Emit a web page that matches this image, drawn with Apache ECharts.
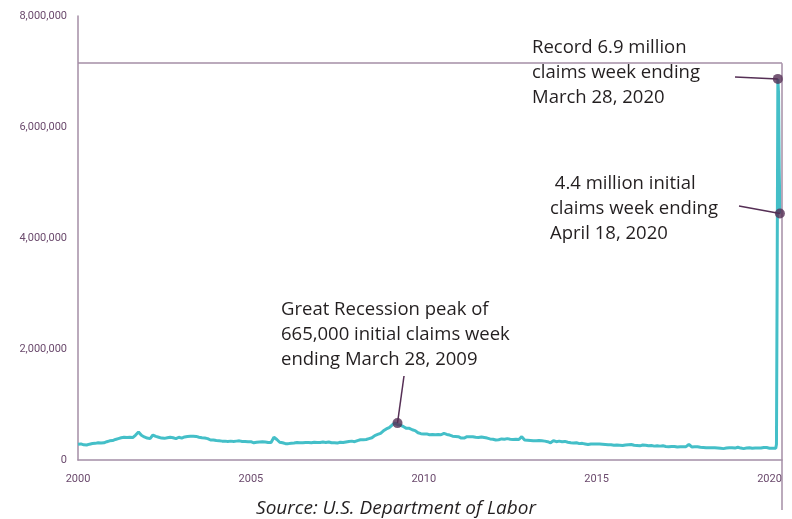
<!DOCTYPE html>
<html>
<head>
<meta charset="utf-8">
<script src="https://cdn.jsdelivr.net/npm/echarts@6/dist/echarts.min.js"></script>
<style>
html,body{margin:0;padding:0;background:#fff;}
#chart{width:792px;height:519px;}
</style>
</head>
<body>
<div id="chart"></div>
<script>
// weekly initial jobless claims, monthly readings (thousands), Jan 2000 - Feb 2020
var monthlyClaims = [
	285,290,273,270,285,296,300,310,305,310,330,345,
	350,370,385,400,410,405,410,405,450,505,445,415,
	395,385,450,425,410,395,390,400,410,400,385,410,
	395,415,425,430,430,425,410,400,395,385,360,360,
	350,345,340,340,335,340,335,340,345,335,335,330,
	330,310,320,325,330,325,315,315,410,370,320,310,
	295,295,300,305,315,310,310,315,315,310,320,315,
	315,325,315,325,310,310,305,320,315,325,335,340,
	330,350,365,365,370,385,400,440,460,480,525,560,
	585,630,665,635,625,600,570,570,545,530,490,475,
	470,470,455,460,455,460,455,480,460,450,430,425,
	420,395,395,420,420,420,410,405,415,405,395,380,
	375,360,365,380,375,385,375,370,375,370,420,360,
	355,350,345,345,350,345,340,330,310,350,330,340,
	330,335,320,310,305,310,295,300,290,280,290,290,
	290,290,285,280,275,275,265,270,265,260,270,275,
	280,265,260,255,270,265,255,260,250,255,250,255,
	245,240,245,245,235,240,240,240,280,235,240,240,
	230,225,220,220,220,220,215,210,205,215,220,220,
	215,230,215,205,215,220,210,215,215,215,225,225,
	212,212
];
// weekly readings, March - April 2020
var weeks2020 = [2020.18,2020.20,2020.22,2020.24,2020.26,2020.28,2020.30];
var claims2020 = [211,282,3307,6867,6615,5237,4442];

var yTicks = [0,2000000,4000000,6000000,8000000];
var xTicks = [2000,2005,2010,2015,2020];

// highlighted weeks
var noteX = [2009.24, 2020.24, 2020.30];
var noteY = [665000, 6867000, 4442000];
var noteText = [
	'Great Recession peak of\n665,000 initial claims week\nending March 28, 2009',
	'Record 6.9 million\nclaims week ending\nMarch 28, 2020',
	' 4.4 million initial\nclaims week ending\nApril 18, 2020'
];
var frameLevel = 7150000;

var lineData = [];
for(var i=0;i<monthlyClaims.length;i++){
	lineData.push([2000+i/12, monthlyClaims[i]*1000]);
}
for(var j=0;j<weeks2020.length;j++){
	lineData.push([weeks2020[j], claims2020[j]*1000]);
}
var dotData = [];
for(var k=0;k<noteX.length;k++){
	dotData.push([noteX[k], noteY[k]]);
}

var axisColor = '#a48ea6';
var labelColor = '#6b4a6d';
var dotColor = '#552f55';
var xMax = 2020.36;

var chart = echarts.init(document.getElementById('chart'));
var option = {
	animation:false,
	grid:{left:78, right:10, top:16, bottom:59},
	xAxis:{
		type:'value',
		min:2000,
		max:xMax,
		interval:5,
		axisLine:{lineStyle:{color:axisColor, width:1.5}},
		axisTick:{show:false},
		splitLine:{show:false},
		axisLabel:{
			color:labelColor, fontSize:11, fontFamily:'Roboto', margin:14,
			showMaxLabel:false,
			formatter:function(v){ return xTicks.indexOf(v)>=0 ? String(v) : ''; }
		}
	},
	yAxis:{
		type:'value',
		min:0,
		max:8000000,
		interval:2000000,
		axisLine:{show:true, lineStyle:{color:axisColor, width:1.5}},
		axisTick:{show:false},
		splitLine:{show:false},
		axisLabel:{
			color:labelColor, fontSize:11, fontFamily:'Roboto', margin:11,
			formatter:function(v){ return yTicks.indexOf(v)>=0 ? v.toLocaleString('en-US') : ''; }
		}
	},
	series:[
		{
			type:'line',
			data:lineData,
			showSymbol:false,
			lineStyle:{color:'#44bfc8', width:3},
			z:3,
			markLine:{
				silent:true,
				symbol:'none',
				label:{show:false},
				lineStyle:{color:axisColor, width:1.5, type:'solid'},
				data:[
					[{coord:[2000,frameLevel]},{coord:[xMax,frameLevel]}],
					[{coord:[xMax,frameLevel]},{coord:[xMax,0]}]
				]
			}
		},
		{
			type:'scatter',
			data:dotData,
			symbolSize:10,
			itemStyle:{color:dotColor},
			z:5
		}
	]
};
chart.setOption(option);

// annotation text and leader lines, anchored on the highlighted points
var textPos = [[281,297],[532,35],[550,171]];
var leadFrom = [[404,376],[735,77],[739,206]];
var g = [];
for(var n=0;n<noteX.length;n++){
	var p = chart.convertToPixel({gridIndex:0}, [noteX[n], noteY[n]]);
	g.push({
		type:'line',
		shape:{x1:leadFrom[n][0], y1:leadFrom[n][1], x2:p[0], y2:p[1]},
		style:{stroke:dotColor, lineWidth:1.5},
		z:4
	});
	g.push({
		type:'text',
		left:textPos[n][0], top:textPos[n][1],
		style:{text:noteText[n], fill:'#231f20', font:'18.5px "Open Sans"', lineHeight:25}
	});
}
var corner = chart.convertToPixel({gridIndex:0}, [xMax, 0]);
g.push({
	type:'line',
	shape:{x1:corner[0], y1:corner[1], x2:corner[0], y2:corner[1]+50},
	style:{stroke:axisColor, lineWidth:1.5}
});
g.push({
	type:'text',
	left:'center', top:499,
	style:{text:'Source: U.S. Department of Labor', fill:'#231f20', font:'italic 19px "Open Sans"'}
});
chart.setOption({graphic:g});

window.addEventListener('resize', function(){ chart.resize(); });
</script>
</body>
</html>
